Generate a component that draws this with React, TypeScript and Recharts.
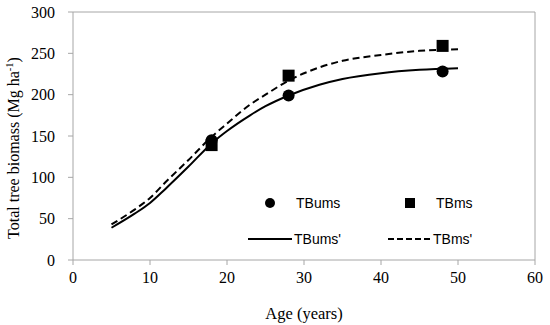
import { ComposedChart, Line, Scatter, XAxis, YAxis, ReferenceLine, Label } from 'recharts'

// observed stand biomass (Mg ha-1)
const obsAges = [18, 28, 48]
const tbUms = [145, 199, 228]
const tbMs = [139, 223, 259]

// fitted curves
const curveAges = [5, 8, 10, 12, 15, 18, 20, 23, 25, 28, 32, 35, 40, 45, 50]
const tbUmsFit = [39, 56, 69, 86, 113, 141, 156, 175, 186, 199, 212, 219, 226, 230, 232]
const tbMsFit = [43, 61, 75, 94, 121, 149, 165, 188, 200, 217, 233, 241, 248, 253, 255]

const xTicks = [0, 10, 20, 30, 40, 50, 60]
const yTicks = [0, 50, 100, 150, 200, 250, 300]

const umsPts = obsAges.map((age, i) => ({ age, v: tbUms[i] }))
const msPts = obsAges.map((age, i) => ({ age, v: tbMs[i] }))
const umsFit = curveAges.map((age, i) => ({ age, v: tbUmsFit[i] }))
const msFit = curveAges.map((age, i) => ({ age, v: tbMsFit[i] }))

const axisGray = '#a6a6a6'
const serif = '"Liberation Serif", "Times New Roman", serif'
const sans = '"Liberation Sans", Arial, sans-serif'

const Dot = (p: any) => <circle cx={p.cx} cy={p.cy} r={6} fill="#000" />
const Square = (p: any) => <rect x={p.cx - 6} y={p.cy - 6} width={12} height={12} fill="#000" />

function LegendBox() {
  const txt = { fontFamily: sans, fontSize: 14, fill: '#000' }
  return (
    <svg width={550} height={325} style={{ position: 'absolute', left: 0, top: 0, pointerEvents: 'none' }}>
      <circle cx={270} cy={203} r={5} fill="#000" />
      <text x={296} y={208} {...txt}>TBums</text>
      <rect x={405} y={198} width={10} height={10} fill="#000" />
      <text x={436} y={208} {...txt}>TBms</text>
      <line x1={248} x2={292} y1={239} y2={239} stroke="#000" strokeWidth={2} />
      <text x={294} y={244} {...txt}>TBums'</text>
      <line x1={388} x2={432} y1={239} y2={239} stroke="#000" strokeWidth={2} strokeDasharray="6 3" />
      <text x={433} y={244} {...txt}>TBms'</text>
    </svg>
  )
}

export default function App() {
  return (
    <div style={{ position: 'absolute', left: 0, top: 0, width: 550, height: 325, background: '#fff' }}>
      <ComposedChart width={550} height={325} margin={{ top: 12, right: 15, bottom: 0, left: 0 }}>
        <XAxis
          dataKey="age"
          type="number"
          domain={[0, 60]}
          ticks={xTicks}
          height={65}
          stroke={axisGray}
          tickSize={5}
          tickMargin={7}
          tick={{ fill: '#000', fontFamily: serif, fontSize: 16 }}
        >
          <Label value="Age (years)" position="insideBottom" offset={6} style={{ fill: '#000', fontFamily: serif, fontSize: 16.5 }} />
        </XAxis>
        <YAxis
          type="number"
          domain={[0, 300]}
          ticks={yTicks}
          width={73}
          stroke={axisGray}
          tickSize={5}
          tickMargin={13}
          tick={{ fill: '#000', fontFamily: serif, fontSize: 16 }}
        >
          <Label
            content={() => (
              <text transform="translate(19,148) rotate(-90)" textAnchor="middle" fontFamily={serif} fontSize={16} fill="#000">
                Total tree biomass (Mg ha
                <tspan fontSize={10.5} dy={-6}>-1</tspan>
                <tspan dy={6}>)</tspan>
              </text>
            )}
          />
        </YAxis>
        <ReferenceLine y={300} stroke={axisGray} />
        <ReferenceLine x={60} stroke={axisGray} />
        <Line data={umsFit} dataKey="v" type="monotone" stroke="#000" strokeWidth={2} dot={false} isAnimationActive={false} />
        <Line data={msFit} dataKey="v" type="monotone" stroke="#000" strokeWidth={2} strokeDasharray="7 4" dot={false} isAnimationActive={false} />
        <Scatter data={umsPts} dataKey="v" shape={Dot} isAnimationActive={false} />
        <Scatter data={msPts} dataKey="v" shape={Square} isAnimationActive={false} />
      </ComposedChart>
      <LegendBox />
    </div>
  )
}
